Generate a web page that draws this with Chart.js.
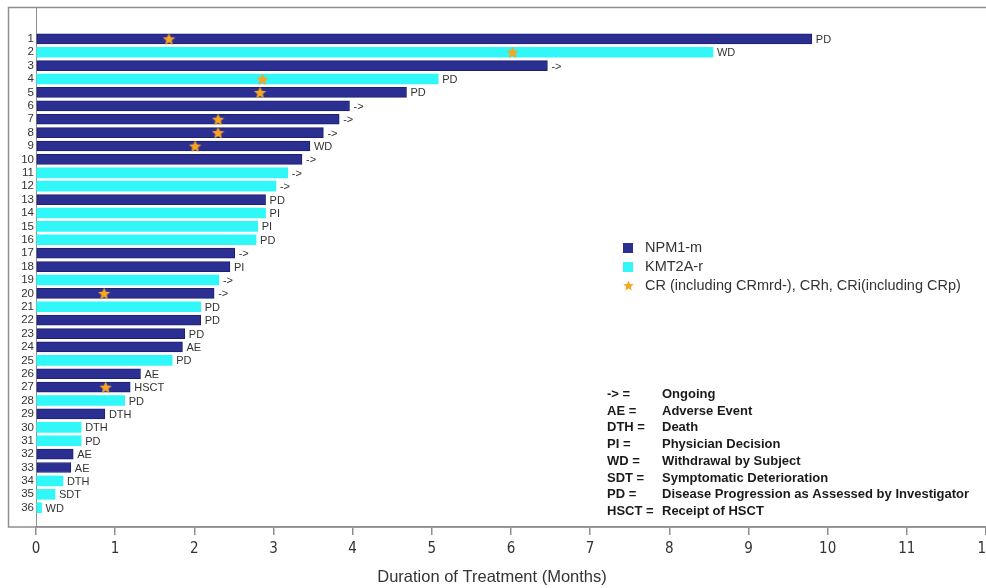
<!DOCTYPE html>
<html>
<head>
<meta charset="utf-8">
<script src="https://cdn.jsdelivr.net/npm/chart.js@4.4.1/dist/chart.umd.min.js"></script>
<style>
  html, body { margin: 0; padding: 0; background: #fff; overflow: hidden; }
  #wrap { position: relative; width: 1020px; height: 588px; }
</style>
</head>
<body>
<div id="wrap"><canvas id="swimmer" width="1020" height="588"></canvas></div>
<script>
// Subjects, ordered by duration of treatment (months)
const subjects = [1,2,3,4,5,6,7,8,9,10,11,12,13,14,15,16,17,18,19,20,21,22,23,24,25,26,27,28,29,30,31,32,33,34,35,36];
const durations = [9.80, 8.55, 6.46, 5.08, 4.68, 3.96, 3.83, 3.63, 3.46, 3.36, 3.18, 3.03,
                   2.90, 2.90, 2.80, 2.78, 2.51, 2.45, 2.31, 2.25, 2.08, 2.08, 1.88, 1.85,
                   1.72, 1.32, 1.19, 1.12, 0.87, 0.57, 0.57, 0.47, 0.44, 0.34, 0.24, 0.07];
const cohorts = ['N','K','N','K','N','N','N','N','N','N','K','K',
                 'N','K','K','K','N','N','K','N','K','N','N','N',
                 'K','N','N','K','N','K','K','N','N','K','K','K'];
const outcomes = ['PD','WD','->','PD','PD','->','->','->','WD','->','->','->',
                  'PD','PI','PI','PD','->','PI','->','->','PD','PD','PD','AE',
                  'PD','AE','HSCT','PD','DTH','DTH','PD','AE','AE','DTH','SDT','WD'];
// Time of first CR / CRh / CRi per responding subject
const responseSubjects = [1, 2, 4, 5, 7, 8, 9, 20, 27];
const responseTimes = [1.68, 6.02, 2.86, 2.83, 2.30, 2.30, 2.01, 0.86, 0.88];
const xTicks = [0,1,2,3,4,5,6,7,8,9,10,11,12];
const keyAbbrev = ['-> =', 'AE =', 'DTH =', 'PI =', 'WD =', 'SDT =', 'PD =', 'HSCT ='];
const keyMeaning = ['Ongoing', 'Adverse Event', 'Death', 'Physician Decision', 'Withdrawal by Subject',
                    'Symptomatic Deterioration', 'Disease Progression as Assessed by Investigator', 'Receipt of HSCT'];

const NAVY = '#2b2f91', NAVY_EDGE = '#1d1f6f', CYAN = '#31f7f9', ORANGE = '#f6a623';

function starCanvas(size, color) {
  const c = document.createElement('canvas');
  c.width = size; c.height = size;
  const g = c.getContext('2d');
  const cx = size / 2, cy = size / 2 + size * 0.05, R = size / 2, r = R * 0.45;
  g.beginPath();
  for (let i = 0; i < 10; i++) {
    const a = -Math.PI / 2 + i * Math.PI / 5;
    const rad = i % 2 === 0 ? R : r;
    g.lineTo(cx + rad * Math.cos(a), cy + rad * Math.sin(a));
  }
  g.closePath();
  g.fillStyle = color;
  g.fill();
  return c;
}
const star = starCanvas(13, ORANGE);
const legendStar = starCanvas(11, ORANGE);

function cohortBars(code) {
  return subjects.filter((s, i) => cohorts[i] === code).map(s => ({ x: durations[s - 1], y: s }));
}

// Frame, outcome labels, legend, abbreviation key and axis title
const decorations = {
  id: 'decorations',
  beforeDraw(chart) {
    const ctx = chart.ctx;
    ctx.save();
    ctx.strokeStyle = '#8f8f8f';
    ctx.lineWidth = 1.5;
    ctx.strokeRect(8.5, 7.5, 1100, 519.5);
    ctx.restore();
  },
  afterDatasetsDraw(chart) {
    const ctx = chart.ctx;
    ctx.save();
    ctx.font = '11px "Liberation Sans", Arial, sans-serif';
    ctx.fillStyle = '#333';
    ctx.textBaseline = 'middle';
    ctx.textAlign = 'left';
    [0, 1].forEach(di => {
      const meta = chart.getDatasetMeta(di);
      meta.data.forEach((el, i) => {
        const row = chart.data.datasets[di].data[i].y;
        ctx.fillText(outcomes[row - 1], el.x + 4, el.y + 1);
      });
    });
    ctx.restore();
  },
  afterDraw(chart) {
    const ctx = chart.ctx;
    ctx.save();
    // legend
    ctx.font = '14.5px "Liberation Sans", Arial, sans-serif';
    ctx.textBaseline = 'middle';
    ctx.fillStyle = NAVY;
    ctx.fillRect(623, 243, 10, 10);
    ctx.fillStyle = CYAN;
    ctx.fillRect(623, 262, 10, 10);
    ctx.drawImage(legendStar, 623, 280);
    ctx.fillStyle = '#333';
    ctx.fillText('NPM1-m', 645, 248);
    ctx.fillText('KMT2A-r', 645, 267);
    ctx.fillText('CR (including CRmrd-), CRh, CRi(including CRp)', 645, 286);
    // abbreviation key
    ctx.font = 'bold 13px "Liberation Sans", Arial, sans-serif';
    ctx.fillStyle = '#1a1a1a';
    keyAbbrev.forEach((t, i) => {
      const y = 394.5 + i * 16.7;
      ctx.fillText(t, 607, y);
      ctx.fillText(keyMeaning[i], 662, y);
    });
    // x axis title
    ctx.font = '16.5px "Liberation Sans", Arial, sans-serif';
    ctx.fillStyle = '#333';
    ctx.textAlign = 'center';
    ctx.fillText('Duration of Treatment (Months)', 492, 577);
    ctx.restore();
  }
};

new Chart(document.getElementById('swimmer'), {
  type: 'bar',
  data: {
    datasets: [
      {
        label: 'NPM1-m',
        data: cohortBars('N'),
        backgroundColor: NAVY,
        borderColor: NAVY_EDGE,
        borderWidth: 1,
        borderSkipped: false,
        barThickness: 10,
        grouped: false
      },
      {
        label: 'KMT2A-r',
        data: cohortBars('K'),
        backgroundColor: CYAN,
        borderColor: CYAN,
        borderWidth: 0,
        barThickness: 10,
        grouped: false
      },
      {
        type: 'scatter',
        order: -1,
        label: 'CR (including CRmrd-), CRh, CRi(including CRp)',
        data: responseSubjects.map((s, i) => ({ x: responseTimes[i], y: s })),
        pointStyle: star,
        pointRadius: 6,
        backgroundColor: ORANGE
      }
    ]
  },
  options: {
    indexAxis: 'y',
    responsive: false,
    animation: false,
    layout: { padding: { top: 8, right: 34, left: 0, bottom: 0 } },
    plugins: { legend: { display: false }, tooltip: { enabled: false } },
    scales: {
      x: {
        type: 'linear',
        min: 0,
        max: 12,
        afterBuildTicks(scale) { scale.ticks = xTicks.map(v => ({ value: v })); },
        afterFit(scale) { scale.height = 61; },
        grid: { drawOnChartArea: false, tickLength: 8, color: '#8f8f8f', lineWidth: 1.5 },
        border: { display: true, color: '#8f8f8f', width: 1.5 },
        ticks: { padding: 5, color: '#333', font: { family: '"Liberation Sans Narrow", "DejaVu Sans Condensed", Arial', size: 15 } }
      },
      y: {
        type: 'linear',
        reverse: true,
        offset: false,
        min: -1.235,
        max: 37.44,
        afterBuildTicks(scale) { scale.ticks = subjects.map(v => ({ value: v })); },
        afterFit(scale) { scale.width = 36; },
        grid: { display: false, drawTicks: false, offset: false },
        border: { display: true, color: '#8f8f8f', width: 1 },
        ticks: { padding: 2, color: '#333', autoSkip: false, font: { family: '"Liberation Sans", Arial', size: 11.5 } }
      }
    }
  },
  plugins: [decorations]
});
</script>
</body>
</html>
